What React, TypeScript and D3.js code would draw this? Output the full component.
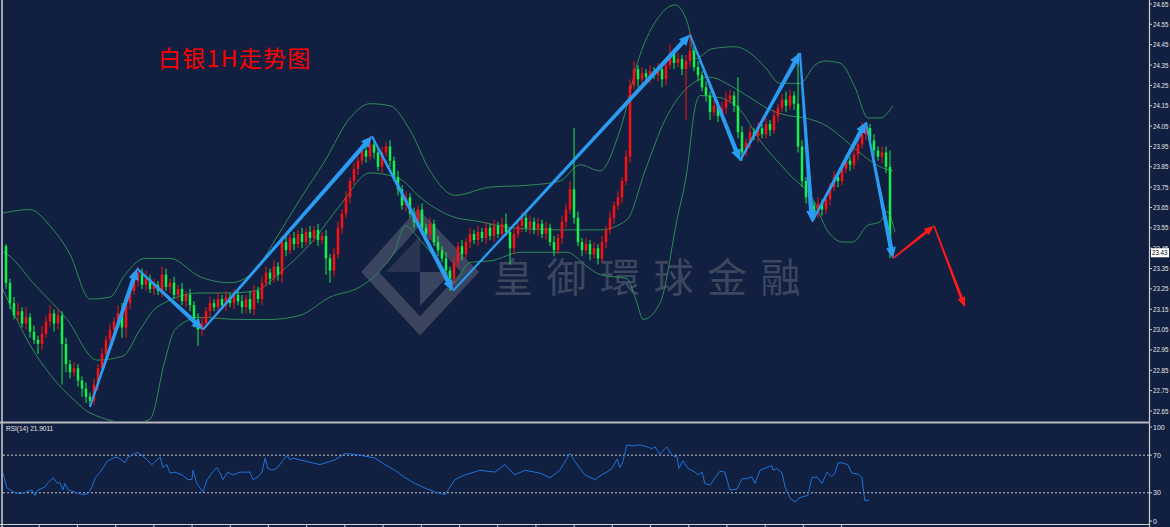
import React from 'react';
import * as d3 from 'd3';

// silver 1H candles: open of each bar = previous close
const firstOpen = 23.46;
const closes = [
  23.28, 23.18, 23.12, 23.14, 23.08, 23.11, 23.04, 23.0, 22.98, 23.03,
  23.09, 23.13, 23.08, 23.12, 22.98, 22.88, 22.84, 22.86, 22.8, 22.76,
  22.72, 22.7, 22.78, 22.86, 22.93, 23.0, 23.05, 23.09, 23.13, 23.06,
  23.18, 23.24, 23.29, 23.33, 23.27, 23.3, 23.25, 23.27, 23.24, 23.32,
  23.26, 23.28, 23.22, 23.25, 23.19, 23.22, 23.17, 23.1, 23.05, 23.08,
  23.14, 23.18, 23.16, 23.2, 23.17, 23.21, 23.18, 23.22, 23.19, 23.16,
  23.2, 23.15, 23.24, 23.2, 23.28, 23.33, 23.3, 23.36, 23.32, 23.48,
  23.44, 23.5, 23.47, 23.52, 23.48, 23.53, 23.5, 23.54, 23.49, 23.51,
  23.4, 23.34, 23.42, 23.55, 23.62, 23.7, 23.78, 23.84, 23.88, 23.93,
  23.9, 23.96, 23.92, 23.85, 23.92, 23.95, 23.88, 23.8, 23.74, 23.66,
  23.7, 23.62, 23.58, 23.64, 23.55, 23.52, 23.57, 23.48, 23.44, 23.4,
  23.34, 23.3, 23.38, 23.46, 23.42, 23.48, 23.52, 23.49, 23.53, 23.5,
  23.55, 23.51, 23.56, 23.52, 23.57, 23.53, 23.45, 23.52, 23.56, 23.6,
  23.55, 23.58, 23.54, 23.57, 23.52, 23.55, 23.48, 23.44, 23.5, 23.58,
  23.64, 23.74, 23.6, 23.48, 23.44, 23.47, 23.42, 23.45, 23.4, 23.48,
  23.54, 23.6, 23.66, 23.7, 23.78, 23.9, 24.25, 24.33, 24.28, 24.31,
  24.29, 24.32, 24.3, 24.33, 24.28, 24.35, 24.41, 24.36, 24.38, 24.33,
  24.37, 24.42, 24.34, 24.3, 24.24, 24.2, 24.12, 24.15, 24.1, 24.14,
  24.18, 24.2, 24.15, 24.02, 23.92, 23.97, 24.02, 24.0, 24.04, 24.01,
  24.06, 24.03, 24.1, 24.14, 24.18, 24.15, 24.2, 24.16, 23.95, 23.78,
  23.7, 23.66, 23.62, 23.67, 23.64, 23.69, 23.75, 23.8, 23.78, 23.84,
  23.88, 23.86, 23.91, 23.96, 24.01, 24.04, 23.98, 23.93, 23.9, 23.92,
  23.85, 23.43,
];
// wick lengths above / below the body, in cents
const wickUp = [
  1, 2, 3, 4, 2, 5, 2, 3, 2, 4, 3, 4, 2, 3, 2, 3, 2, 3, 2, 2,
  3, 2, 3, 2, 3, 2, 3, 2, 4, 5, 3, 3, 2, 3, 2, 4, 2, 3, 2, 4,
  3, 2, 3, 2, 3, 2, 3, 2, 3, 3, 2, 3, 2, 3, 2, 3, 2, 3, 2, 3,
  2, 4, 3, 2, 3, 3, 2, 3, 2, 3, 3, 2, 3, 2, 3, 2, 3, 2, 3, 2,
  3, 2, 3, 3, 2, 3, 2, 3, 2, 3, 3, 4, 3, 2, 3, 2, 3, 2, 3, 2,
  3, 2, 3, 2, 3, 2, 3, 2, 3, 2, 3, 2, 3, 2, 3, 2, 3, 2, 3, 2,
  3, 2, 3, 2, 3, 5, 2, 3, 2, 3, 2, 3, 2, 3, 2, 3, 2, 3, 2, 3,
  3, 4, 30, 3, 2, 3, 2, 3, 2, 3, 2, 3, 2, 3, 2, 3, 3, 4, 2, 3,
  2, 3, 2, 3, 2, 3, 4, 2, 3, 2, 3, 9, 2, 3, 2, 3, 2, 3, 2, 3,
  4, 3, 2, 14, 3, 2, 3, 2, 3, 2, 3, 2, 3, 2, 3, 4, 3, 2, 25, 3,
  2, 3, 2, 3, 2, 3, 2, 3, 2, 3, 3, 2, 3, 2, 6, 3, 2, 3, 2, 3,
  3, 8,
];
const wickDn = [
  3, 3, 2, 3, 2, 3, 3, 2, 5, 3, 2, 3, 4, 3, 20, 4, 3, 2, 3, 4,
  3, 3, 2, 3, 2, 3, 2, 3, 3, 5, 5, 3, 2, 3, 2, 3, 2, 3, 2, 3,
  2, 3, 2, 3, 2, 3, 3, 4, 8, 3, 2, 3, 2, 3, 2, 3, 2, 3, 2, 3,
  3, 2, 3, 2, 3, 2, 3, 2, 3, 4, 3, 2, 3, 2, 3, 2, 3, 2, 3, 2,
  8, 6, 3, 2, 3, 2, 3, 2, 3, 2, 3, 2, 3, 2, 3, 2, 3, 2, 3, 2,
  3, 2, 3, 2, 3, 2, 3, 2, 3, 2, 3, 6, 3, 2, 3, 2, 3, 2, 3, 2,
  3, 2, 3, 2, 3, 2, 8, 3, 2, 3, 2, 3, 2, 3, 2, 3, 2, 3, 2, 3,
  3, 2, 3, 2, 3, 2, 3, 2, 3, 2, 3, 2, 3, 2, 3, 2, 3, 2, 4, 3,
  2, 3, 2, 3, 4, 3, 2, 3, 2, 3, 25, 3, 2, 3, 2, 3, 4, 2, 3, 2,
  3, 2, 3, 3, 4, 2, 3, 2, 3, 2, 2, 3, 2, 3, 2, 3, 2, 3, 3, 3,
  3, 2, 3, 2, 3, 2, 3, 2, 3, 2, 2, 3, 2, 3, 2, 3, 2, 3, 2, 3,
  3, 3,
];

// bollinger bands: [bar, price]
const bbUpper: [number, number][] = [
  [-1.5, 23.62], [6, 23.64], [11, 23.56], [16, 23.42], [21, 23.2], [26, 23.21], [29.75, 23.32],
  [34.75, 23.4], [41, 23.4], [48.5, 23.31], [56, 23.28], [62.25, 23.34], [67.25, 23.49], [73.5, 23.69],
  [79.75, 23.88], [86, 24.09], [91, 24.16], [96, 24.15], [101, 24.03], [106, 23.83], [112.25, 23.71],
  [121, 23.75], [131, 23.76], [138.5, 23.78], [143.5, 23.86], [148.5, 23.83], [153.5, 24.03],
  [158.5, 24.4], [162.25, 24.56], [167.25, 24.645], [170.5, 24.55], [172.25, 24.38], [176.5, 24.43],
  [182.25, 24.44], [186, 24.41], [189.75, 24.34], [193.5, 24.26], [198.5, 24.26], [202.25, 24.35],
  [204.75, 24.37], [208.5, 24.36], [212.25, 24.24], [215.5, 24.09], [218.5, 24.09], [221.75, 24.15],
];
const bbMiddle: [number, number][] = [
  [-1.5, 23.44], [1, 23.41], [6.75, 23.28], [15.25, 23.1], [22.75, 22.9], [29.25, 22.92], [33.5, 23.05],
  [37.75, 23.16], [48.5, 23.23], [56, 23.23], [62.25, 23.24], [68.5, 23.33], [76, 23.47], [83.5, 23.66],
  [91, 23.82], [98.5, 23.79], [103.5, 23.7], [111, 23.61], [118.5, 23.58], [126.75, 23.55],
  [138.5, 23.54], [148.5, 23.54], [155.25, 23.59], [159.75, 23.83], [164.75, 24.08], [171, 24.25],
  [176, 24.29], [181, 24.25], [186, 24.19], [191, 24.13], [196, 24.1], [199.75, 24.09], [205.25, 24.05],
  [211, 23.96], [216, 23.88], [219.75, 23.84], [221.75, 23.83],
];
const bbLower: [number, number][] = [
  [-1.5, 23.28], [6.75, 22.95], [11, 22.83], [17.25, 22.7], [21, 22.64], [31.75, 22.59], [36, 22.61],
  [39.75, 22.9], [42.25, 23.05], [48.5, 23.11], [58.5, 23.1], [66, 23.1], [73.5, 23.12], [81, 23.21],
  [88.5, 23.26], [93.5, 23.34], [97.25, 23.44], [99.75, 23.56], [103.5, 23.49], [108.5, 23.37],
  [111.75, 23.28], [116, 23.38], [121.75, 23.39], [128.5, 23.43], [140.25, 23.43], [145.25, 23.36],
  [148.5, 23.32], [155.25, 23.3], [157.75, 23.18], [159.25, 23.1], [163.5, 23.18], [167.75, 23.59],
  [170.25, 23.83], [172.25, 24.14], [173.5, 24.2], [178.5, 24.19], [183.5, 24.13], [188.5, 23.98],
  [196, 23.81], [201.75, 23.69], [205.25, 23.54], [209.25, 23.48], [211.75, 23.48], [215.25, 23.56],
  [218.5, 23.58], [220.25, 23.63], [222.25, 23.53],
];

// RSI(14): [bar, value]
const rsi14: [number, number][] = [
  [0, 51], [1, 35], [2.6, 31], [4.3, 29], [6.1, 31], [7.4, 33], [8.2, 27], [8.9, 33], [10.7, 36],
  [11.5, 41], [12.8, 46], [13.8, 40], [14.5, 41], [15.3, 33], [15.8, 40], [16.6, 33], [18.9, 30],
  [20.2, 28], [21.7, 29], [22.7, 36], [23.5, 46], [24.8, 52], [26.5, 63], [28.1, 67], [29.3, 68],
  [31.1, 62], [31.9, 68], [34.2, 73], [35.5, 70], [36.7, 65], [38, 60], [39.3, 65], [40.1, 68],
  [40.8, 57], [41.8, 60], [42.6, 51], [43.9, 52], [45.7, 49], [47.2, 44], [48.2, 44], [48.5, 54],
  [49.5, 40], [50.3, 35], [51, 31], [52.1, 44], [53.3, 51], [54.6, 57], [55.4, 51], [56.1, 44],
  [57.4, 52], [58.7, 49], [60.5, 52], [63, 52], [63.8, 44], [65.1, 47], [66.1, 52], [66.9, 67],
  [67.6, 56], [68.6, 54], [69.9, 56], [71.2, 63], [72.5, 70], [73.2, 65], [74, 67], [75.8, 65],
  [80.9, 60], [84.7, 65], [87.3, 72], [91.1, 70], [94.9, 67], [97.5, 60], [100, 54], [102.6, 46],
  [105.1, 40], [107.7, 35], [110.2, 31], [112.8, 28], [115.3, 44], [117.9, 49], [121.7, 54],
  [125.5, 52], [128.1, 60], [130.6, 49], [133.2, 54], [137, 51], [139.6, 46], [142.1, 54], [144.7, 72],
  [146, 63], [148.5, 49], [151.1, 44], [152.3, 48], [154.1, 52], [155.4, 56], [156.7, 66], [157.4, 57],
  [158.2, 63], [159.2, 81], [160.5, 80], [162.5, 81], [164.3, 79], [165.6, 77], [166.4, 79],
  [167.6, 71], [169.4, 79], [170.7, 70], [172, 68], [172.5, 56], [173.5, 64], [174.8, 56], [176.6, 52],
  [177.3, 49], [178.4, 52], [179.1, 40], [180.4, 38], [181.7, 46], [183, 53], [184.2, 52], [185.5, 33],
  [187.3, 34], [188.6, 45], [189.8, 45], [191.1, 47], [191.9, 40], [193.2, 54], [195, 57], [196.2, 59],
  [196.5, 54], [197.5, 56], [198.8, 51], [199.6, 36], [200.9, 24], [202.2, 20], [203, 24], [204.1, 26],
  [205.4, 27], [206.4, 46], [207.7, 47], [209, 40], [210.3, 52], [211.5, 47], [212.3, 51], [213.1, 62],
  [214.1, 62], [215.6, 60], [216.6, 51], [218.2, 50], [219.2, 46], [219.9, 22], [221, 21.9],
];

// hand drawn swing arrows: [bar, price]
const blueSwings: [number, number][] = [
  [21, 22.67], [32.75, 23.35], [49.25, 23.05], [91.5, 24.0], [111.75, 23.24], [171, 24.5],
  [183.5, 23.88], [198.5, 24.41], [201.5, 23.58], [215, 24.07], [221.75, 23.4],
];
const redSwings: [number, number][] = [[221.75, 23.4], [232, 23.56], [239.75, 23.16]];

const priceLabels = [
  '24.65', '24.55', '24.45', '24.35', '24.25', '24.15', '24.05', '23.95', '23.85', '23.75', '23.65',
  '23.55', '23.45', '23.35', '23.25', '23.15', '23.05', '22.95', '22.85', '22.75', '22.65',
];
const rsiLabels = [100, 70, 30, 0];
const rsiLevels = [70, 30];
const lastPrice = '23.43';
const rsiTitle = 'RSI(14) 21.9011';
const title = '白银1H走势图';
const watermark = '皇御環球金融';

const W = 1170;
const H = 527;
const BG = '#111f40';
const UP = '#ff1010';
const DOWN = '#12f04a';
const BAND = '#2f8a5a';
const AXIS = '#cfcfd4';
const FONT = "'Liberation Sans', sans-serif";

function arrowPath(p0: [number, number], p1: [number, number], w0: number, w1: number, hl: number, hw: number) {
  const [x1, y1] = p0;
  const [x2, y2] = p1;
  const len = Math.hypot(x2 - x1, y2 - y1);
  const ux = (x2 - x1) / len, uy = (y2 - y1) / len;
  const nx = -uy, ny = ux;
  const bx = x2 - ux * hl, by = y2 - uy * hl;
  const pts = [
    [x1 + nx * w0 / 2, y1 + ny * w0 / 2],
    [bx + nx * w1 / 2, by + ny * w1 / 2],
    [bx + nx * hw, by + ny * hw],
    [x2, y2],
    [bx - nx * hw, by - ny * hw],
    [bx - nx * w1 / 2, by - ny * w1 / 2],
    [x1 - nx * w0 / 2, y1 - ny * w0 / 2],
  ];
  return 'M' + pts.map((p) => p[0].toFixed(1) + ',' + p[1].toFixed(1)).join('L') + 'Z';
}

const App = () => {
  const x = d3.scaleLinear().domain([0, closes.length - 1]).range([6, 890]);
  const y = d3.scaleLinear().domain([22.65, 24.65]).range([411, 4]);
  const xr = d3.scaleLinear().domain([0, closes.length - 1]).range([3, 869]);
  const yr = d3.scaleLinear().domain([0, 100]).range([521, 427]);

  const candles = closes.map((c, i) => {
    const o = i === 0 ? firstOpen : closes[i - 1];
    const hi = Math.max(o, c) + wickUp[i] / 100;
    const lo = Math.min(o, c) - wickDn[i] / 100;
    return { i, o, c, hi, lo };
  });

  const bandLine = d3
    .line<[number, number]>()
    .x((d) => x(d[0]))
    .y((d) => y(d[1]))
    .curve(d3.curveMonotoneX);

  const rsiLine = d3
    .line<[number, number]>()
    .x((d) => xr(d[0]))
    .y((d) => yr(d[1]));

  const blue = blueSwings.map((d) => [x(d[0]), y(d[1])] as [number, number]);
  const red = redSwings.map((d) => [x(d[0]), y(d[1])] as [number, number]);

  const axisTicks = d3.range(9.25, closes.length, 9.75);

  return (
    <svg width={W} height={H} style={{ position: 'fixed', left: 0, top: 0, background: BG }}>
      <defs>
        <clipPath id="main-clip">
          <rect x={3} y={0} width={1146} height={421} />
        </clipPath>
        <clipPath id="rsi-clip">
          <rect x={3} y={424} width={1146} height={100} />
        </clipPath>
      </defs>
      <rect width={W} height={H} fill={BG} />

      {/* watermark */}
      <g opacity={0.3}>
        <path d="M418,218 L470,272 L420,326 L370,272 Z" fill="none" stroke="#9a9aa6" strokeWidth={13} />
        <path d="M420,272 L452,272 L420,306 Z" fill="#9a9aa6" />
        <path d="M386,272 L420,236 L420,272 Z" fill="#9a9aa6" opacity={0.6} />
      </g>
      <text
        x={493}
        y={292}
        fontSize={40}
        letterSpacing={13.5}
        fill="#8e8e96"
        opacity={0.35}
        fontFamily="'Noto Sans CJK TC', 'Noto Sans CJK SC', sans-serif"
      >
        {watermark}
      </text>

      <text x={158} y={67} fontSize={23} fill="#ff0000" fontFamily="'Noto Sans CJK SC', sans-serif" letterSpacing={1.3}>
        {title}
      </text>

      <g clipPath="url(#main-clip)">
        {[bbUpper, bbMiddle, bbLower].map((b, k) => (
          <path key={k} d={bandLine(b) || ''} fill="none" stroke={BAND} strokeWidth={1} />
        ))}
        {candles.map((d) => {
          const col = d.c > d.o ? UP : DOWN;
          const top = y(Math.max(d.o, d.c));
          const bot = y(Math.min(d.o, d.c));
          return (
            <g key={d.i}>
              <line x1={x(d.i)} x2={x(d.i)} y1={y(d.hi)} y2={y(d.lo)} stroke={col} strokeWidth={1} />
              <rect x={x(d.i) - 1.25} y={top} width={2.5} height={Math.max(1, bot - top)} fill={col} />
            </g>
          );
        })}
        {blue.slice(1).map((p, k) => (
          <path key={k} d={arrowPath(blue[k], p, 2, 4.5, 11, 5)} fill="#2a9cf2" />
        ))}
        {red.slice(1).map((p, k) => (
          <path key={k} d={arrowPath(red[k], p, 1.5, 3, 10, 4)} fill="#ff1a1a" />
        ))}
      </g>

      {/* rsi panel */}
      <g clipPath="url(#rsi-clip)">
        {rsiLevels.map((v) => (
          <line key={v} x1={3} x2={1149} y1={yr(v)} y2={yr(v)} stroke="#c8c8cc" strokeDasharray="2,2" strokeWidth={1} />
        ))}
        <path d={rsiLine(rsi14) || ''} fill="none" stroke="#1f72d6" strokeWidth={1} />
      </g>
      <text x={6} y={431} fontSize={6.5} fill="#e8e8e8" fontFamily={FONT}>
        {rsiTitle}
      </text>

      {/* frame */}
      <line x1={2} x2={2} y1={0} y2={H} stroke={AXIS} strokeWidth={1.5} />
      <line x1={1149.5} x2={1149.5} y1={0} y2={H} stroke={AXIS} strokeWidth={1.2} />
      <line x1={0} x2={1150} y1={422.5} y2={422.5} stroke="#b8b8c0" strokeWidth={2} />
      <line x1={0} x2={1150} y1={524.5} y2={524.5} stroke={AXIS} strokeWidth={1} />
      {axisTicks.map((t) => (
        <line key={t} x1={xr(t)} x2={xr(t)} y1={524} y2={527} stroke={AXIS} strokeWidth={1} />
      ))}

      {/* right axis */}
      {priceLabels.map((l) => (
        <g key={l}>
          <line x1={1150} x2={1152} y1={y(+l)} y2={y(+l)} stroke={AXIS} />
          <text
            x={1153}
            y={y(+l) + 2.5}
            fontSize={7}
            textLength={15.5}
            lengthAdjust="spacingAndGlyphs"
            fill="#e4e4e8"
            fontFamily={FONT}
          >
            {l}
          </text>
        </g>
      ))}
      <rect x={1151} y={y(+lastPrice) - 4} width={18} height={9} fill="#ffffff" />
      <text
        x={1152}
        y={y(+lastPrice) + 3}
        fontSize={7}
        textLength={15.5}
        lengthAdjust="spacingAndGlyphs"
        fill="#000000"
        fontFamily={FONT}
      >
        {lastPrice}
      </text>
      {rsiLabels.map((v) => (
        <g key={v}>
          <line x1={1150} x2={1152} y1={yr(v)} y2={yr(v)} stroke={AXIS} />
          <text x={1153} y={yr(v) + 2.5} fontSize={7} fill="#e4e4e8" fontFamily={FONT}>
            {v}
          </text>
        </g>
      ))}
    </svg>
  );
};

export default App;
